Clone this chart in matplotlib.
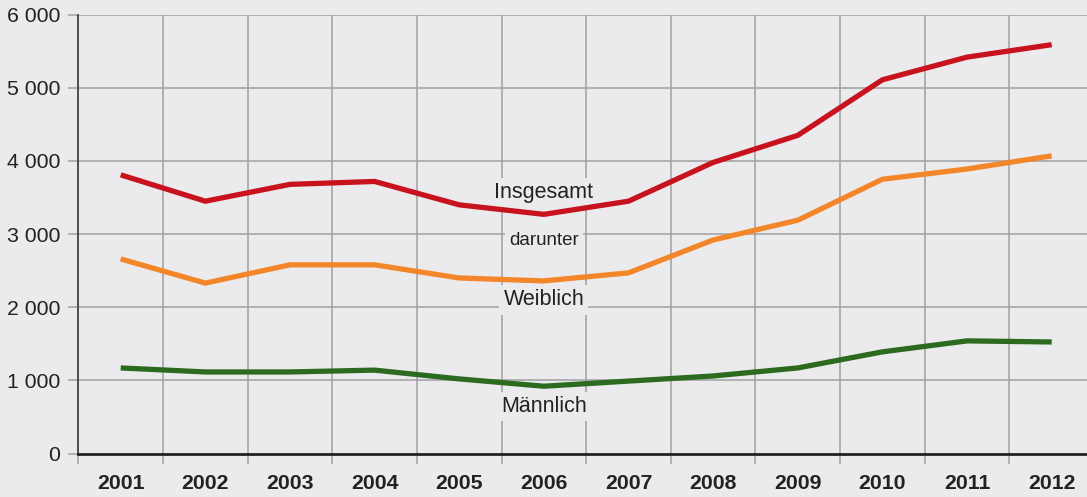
import matplotlib
matplotlib.use("Agg")
import matplotlib.pyplot as plt
import numpy as np

years = ["2001", "2002", "2003", "2004", "2005", "2006", "2007", "2008", "2009", "2010", "2011", "2012"]
insgesamt = [3810, 3450, 3680, 3720, 3400, 3270, 3450, 3980, 4350, 5110, 5420, 5590]
weiblich = [2660, 2330, 2580, 2580, 2400, 2360, 2470, 2920, 3190, 3750, 3890, 4070]
maennlich = [1170, 1115, 1115, 1140, 1020, 920, 990, 1060, 1170, 1390, 1540, 1525]
yticks = [0, 1000, 2000, 3000, 4000, 5000, 6000]
ytick_labels = ["0", "1 000", "2 000", "3 000", "4 000", "5 000", "6 000"]

plt.rcParams['font.family'] = ['Liberation Sans', 'DejaVu Sans']
bg = "#EBEBEE"
grid_c = "#A0A0A2"

fig = plt.figure(figsize=(10.87, 4.97), dpi=100, facecolor=bg)
W, H = 1087, 497
left_px, right_px, top_px, bot_px = 78.4, 1094, 14.7, 453.5
ax = fig.add_axes([left_px / W, 1 - bot_px / H, (right_px - left_px) / W, (bot_px - top_px) / H])
ax.set_facecolor(bg)

x = np.arange(len(years))
ax.set_xlim(-0.5, 11.5)
ax.set_ylim(0, 6000)

# grid
for b in np.arange(-0.5, 12, 1.0):
    ax.axvline(b, color=grid_c, lw=1.1, zorder=1)
for yv in yticks[1:]:
    ax.axhline(yv, color=grid_c, lw=1.1, zorder=1)

ax.plot(x, insgesamt, color="#C8131F", lw=3.8, zorder=3, solid_capstyle="butt")
ax.plot(x, weiblich, color="#F4862A", lw=3.8, zorder=3, solid_capstyle="butt")
ax.plot(x, maennlich, color="#2C6B1F", lw=3.8, zorder=3, solid_capstyle="butt")

box = dict(facecolor=bg, edgecolor="none", pad=3)
ax.text(5.0, 3570, "Insgesamt", ha="center", va="center", fontsize=15.5, color="#222222", bbox=box, zorder=2)
ax.text(5.0, 2910, "darunter", ha="center", va="center", fontsize=13.5, color="#222222", bbox=box, zorder=2)
ax.text(5.0, 2100, "Weiblich", ha="center", va="center", fontsize=15.5, color="#222222", bbox=box, zorder=2)
ax.text(5.0, 640, "Männlich", ha="center", va="center", fontsize=15.5, color="#222222", bbox=box, zorder=2)

# ticks
ax.set_yticks(yticks)
ax.set_yticklabels(ytick_labels, fontsize=15.3, color="#222222")
ax.tick_params(axis="y", length=7, width=1.1, color=grid_c, pad=6)
ax.set_xticks(x)
ax.set_xticklabels(years, fontsize=15.3, fontweight="bold", color="#222222")
ax.tick_params(axis="x", which="major", length=0, pad=15)
ax.set_xticks(np.arange(-0.5, 12, 1.0), minor=True)
ax.tick_params(axis="x", which="minor", length=7, width=1.1, color=grid_c)

for s in ["top", "right"]:
    ax.spines[s].set_visible(False)
ax.spines["left"].set_color("#444444")
ax.spines["left"].set_linewidth(1.3)
ax.spines["bottom"].set_color("#222222")
ax.spines["bottom"].set_linewidth(2)
ax.spines["bottom"].set_zorder(5)

fig.savefig("out.png", dpi=100, facecolor=bg)
